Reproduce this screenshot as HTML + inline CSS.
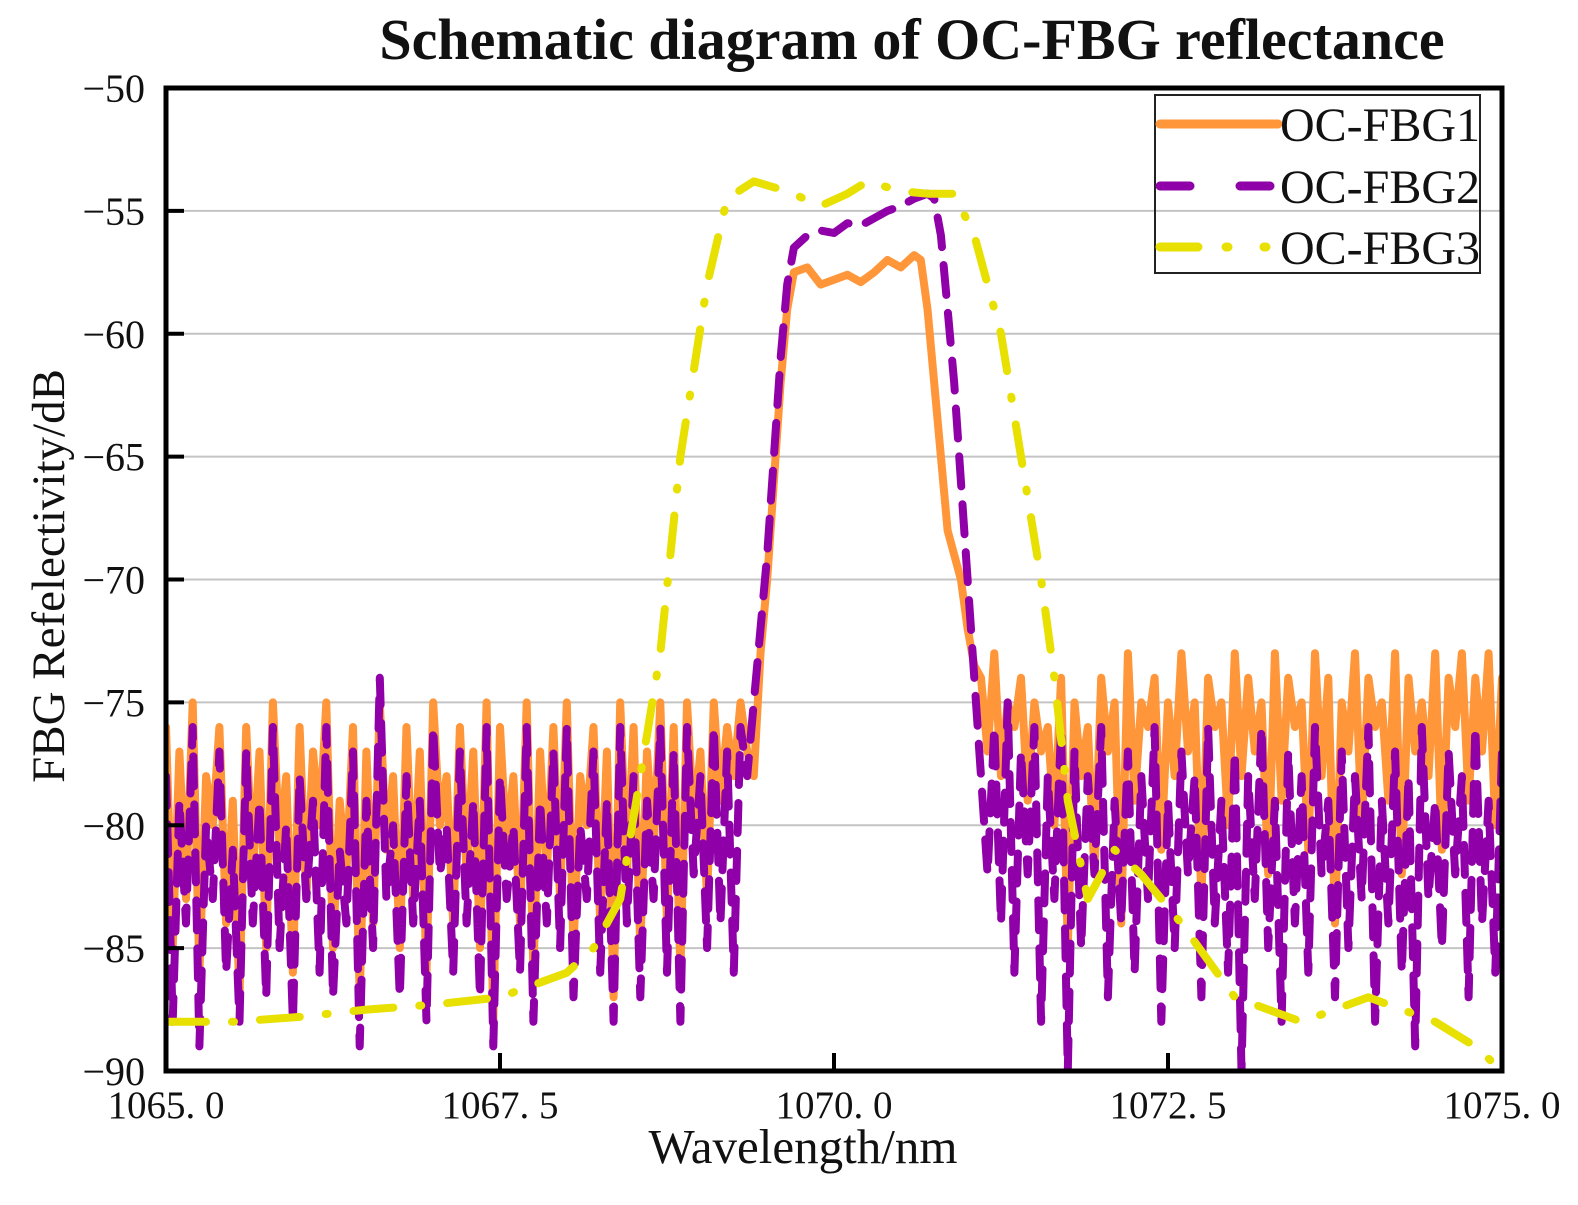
<!DOCTYPE html>
<html><head><meta charset="utf-8"><style>
html,body{margin:0;padding:0;background:#fff;}
svg{display:block;}
text{font-family:"Liberation Serif",serif;fill:#111;}
</style></head><body>
<svg id="chart" width="1578" height="1205" viewBox="0 0 1578 1205">
<text x="912" y="59" font-size="58" font-weight="bold" text-anchor="middle">Schematic diagram of OC-FBG reflectance</text>
<g id="grid"></g>
<g id="series"></g>
<rect x="166" y="88" width="1336" height="983" fill="none" stroke="#000" stroke-width="5"/>
<g id="ticks"></g>
<text x="803" y="1163" font-size="49" text-anchor="middle">Wavelength/nm</text>
<text transform="translate(64,576) rotate(-90)" font-size="47" text-anchor="middle">FBG Refelectivity/dB</text>
<g>
<rect x="1155" y="95" width="325" height="178" fill="none" stroke="#222" stroke-width="2"/>
<line x1="1160" y1="124" x2="1278" y2="124" stroke="#ff963a" stroke-width="9" stroke-linecap="round"/>
<line x1="1160" y1="186" x2="1278" y2="186" stroke="#9000a8" stroke-width="9" stroke-dasharray="30,50" stroke-linecap="round"/>
<line x1="1160" y1="247" x2="1278" y2="247" stroke="#e8e000" stroke-width="9" stroke-dasharray="38,28,2,36,2,30" stroke-linecap="round"/>
<text x="1280" y="141" font-size="48">OC-FBG1</text>
<text x="1280" y="203" font-size="48">OC-FBG2</text>
<text x="1280" y="264" font-size="48">OC-FBG3</text>
</g>
</svg>
<script>
const xTicks=[1065,1067.5,1070,1072.5,1075];
const xTickLabels=["1065. 0","1067. 5","1070. 0","1072. 5","1075. 0"];
const yTicks=[-50,-55,-60,-65,-70,-75,-80,-85,-90];
const yTickLabels=["\u221250","\u221255","\u221260","\u221265","\u221270","\u221275","\u221280","\u221285","\u221290"];
const noiseStep=0.05;
const fbg1LeftStart=1065;
const fbg1Left=[-76,-85,-77,-83,-75,-86,-78,-80,-76,-84,-79,-87,-76,-82,-77,-85,-75,-81,-78,-86,-76,-83,-77,-80,-75,-85,-79,-82,-76,-87,-77,-84,-75,-81,-78,-85,-76,-83,-77,-86,-75,-80,-78,-84,-76,-82,-77,-85,-75,-88,-76,-81,-78,-84,-75,-86,-77,-82,-76,-83,-75,-85,-78,-80,-76,-84,-77,-87,-75,-82,-76,-85,-77,-81,-75,-84,-76,-86,-75,-80,-77,-83,-75,-79,-76,-78,-75,-77];
const fbg1CenterX=[1069.4,1069.45,1069.5,1069.55,1069.6,1069.65,1069.7,1069.8,1069.9,1070.0,1070.1,1070.2,1070.3,1070.4,1070.5,1070.6,1070.65,1070.7,1070.75,1070.8,1070.85,1070.95,1071.0,1071.05];
const fbg1CenterY=[-78,-73,-70,-66,-62,-59,-57.5,-57.3,-58,-57.8,-57.6,-57.9,-57.5,-57.0,-57.3,-56.8,-57,-59,-62,-65,-68,-70,-72,-73.5];
const fbg1RightStart=1071.1;
const fbg1Right=[-74,-77,-73,-78,-75,-76,-74,-79,-75,-77,-76,-80,-74,-85,-75,-78,-76,-82,-74,-77,-75,-84,-73,-79,-75,-76,-74,-81,-75,-78,-73,-77,-75,-83,-74,-76,-75,-80,-73,-78,-74,-77,-75,-82,-73,-79,-74,-76,-75,-81,-73,-78,-74,-84,-75,-77,-73,-80,-74,-76,-75,-79,-73,-82,-74,-77,-75,-78,-73,-81,-74,-76,-73,-79,-74,-77,-73,-80,-74];
const fbg2LeftStart=1065;
const fbg2Left=[-78,-88,-79,-84,-76,-89,-80,-83,-77,-86,-81,-88,-77,-84,-79,-87,-76,-85,-80,-88,-78,-83,-79,-86,-76,-87,-81,-84,-77,-89,-79,-85,-74,-83,-80,-87,-78,-84,-79,-88,-76,-82,-80,-86,-77,-84,-79,-87,-76,-89,-78,-83,-80,-86,-76,-88,-79,-84,-77,-85,-76,-87,-80,-83,-77,-86,-79,-88,-76,-84,-78,-87,-79,-83,-76,-86,-77,-88,-76,-82,-78,-85,-76,-84,-77,-86,-76];
const fbg2CenterX=[1069.35,1069.4,1069.45,1069.5,1069.55,1069.6,1069.65,1069.7,1069.8,1069.9,1070.0,1070.1,1070.2,1070.3,1070.4,1070.5,1070.6,1070.7,1070.75,1070.8,1070.85,1070.9,1070.95,1071.0,1071.05,1071.1,1071.15];
const fbg2CenterY=[-78,-75,-72,-69,-65,-61,-58,-56.5,-56,-55.8,-55.9,-55.5,-55.6,-55.3,-55.0,-54.8,-54.5,-54.3,-54.5,-56,-59,-62,-66,-70,-74,-78,-82];
const fbg2RightStart=1071.2;
const fbg2Right=[-76,-84,-75,-86,-77,-82,-76,-88,-78,-83,-76,-90,-77,-85,-78,-82,-76,-87,-79,-84,-77,-86,-78,-83,-76,-88,-79,-85,-77,-82,-78,-87,-76,-84,-79,-86,-77,-90,-78,-83,-76,-85,-79,-88,-77,-84,-78,-86,-76,-82,-79,-87,-77,-85,-78,-83,-76,-88,-79,-84,-77,-86,-78,-89,-76,-83,-79,-85,-77,-82,-78,-87,-76,-84,-79,-86,-77];
const fbg3X=[1065,1065.5,1066,1066.5,1067,1067.5,1068,1068.2,1068.4,1068.55,1068.7,1068.85,1069.05,1069.2,1069.4,1069.65,1069.9,1070.1,1070.25,1070.5,1070.7,1070.9,1071.05,1071.25,1071.4,1071.55,1071.65,1071.75,1071.9,1072.1,1072.3,1072.6,1073,1073.5,1074,1074.5,1074.8,1075];
const fbg3Y=[-88,-88,-87.8,-87.5,-87.3,-87,-86,-85,-83,-78,-73,-65,-58,-54.5,-53.8,-54.2,-54.8,-54.3,-53.8,-54.2,-54.3,-54.3,-56,-60,-65,-70,-74,-79,-83,-81,-82,-84,-87,-88,-87,-88,-89,-90];

const X0=166,X1=1502,Y0=88,Y1=1071;
const sx=v=>X0+(v-1065)/10*(X1-X0);
const sy=v=>Y0+(-50-v)/40*(Y1-Y0);
const NS="http://www.w3.org/2000/svg";
const grid=document.getElementById('grid'),ticks=document.getElementById('ticks'),series=document.getElementById('series');
yTicks.forEach((t,i)=>{
  if(i>0&&i<yTicks.length-1){
    const g=document.createElementNS(NS,'line');
    
    
    g.setAttribute('x1',X0);g.setAttribute('x2',X1);g.setAttribute('y1',sy(t));g.setAttribute('y2',sy(t));
    g.setAttribute('stroke','#c4c4c4');g.setAttribute('stroke-width','2');grid.appendChild(g);
    const tk=document.createElementNS(NS,'line');
    
    
    tk.setAttribute('x1',X0);tk.setAttribute('x2',X0+18);tk.setAttribute('y1',sy(t));tk.setAttribute('y2',sy(t));
    tk.setAttribute('stroke','#000');tk.setAttribute('stroke-width','4');ticks.appendChild(tk);
  }
  const l=document.createElementNS(NS,'text');
  
  
  l.setAttribute('x',145);l.setAttribute('y',sy(t)+14);l.setAttribute('text-anchor','end');l.setAttribute('font-size','40');
  l.textContent=yTickLabels[i];ticks.appendChild(l);
});
xTicks.forEach((t,i)=>{
  if(i>0&&i<xTicks.length-1){
    const tk=document.createElementNS(NS,'line');
    
    
    tk.setAttribute('x1',sx(t));tk.setAttribute('x2',sx(t));tk.setAttribute('y1',Y1);tk.setAttribute('y2',Y1-18);
    tk.setAttribute('stroke','#000');tk.setAttribute('stroke-width','4');ticks.appendChild(tk);
  }
  const l=document.createElementNS(NS,'text');
  
  
  l.setAttribute('x',sx(t));l.setAttribute('y',1118);l.setAttribute('text-anchor','middle');l.setAttribute('font-size','39');
  l.textContent=xTickLabels[i];ticks.appendChild(l);
});
function build(ls,l,cx,cy,rs,r){
  const pts=[];
  l.forEach((v,i)=>pts.push([ls+i*noiseStep,v]));
  cx.forEach((x,i)=>pts.push([x,cy[i]]));
  r.forEach((v,i)=>pts.push([rs+i*noiseStep,v]));
  return pts;
}
function draw(pts,color,dash,w,name){
  const p=document.createElementNS(NS,'path');
  
  
  p.setAttribute('d',pts.map((q,i)=>(i?'L':'M')+sx(q[0]).toFixed(1)+','+sy(q[1]).toFixed(1)).join(''));
  p.setAttribute('fill','none');p.setAttribute('stroke',color);p.setAttribute('stroke-width',w);
  p.setAttribute('stroke-linejoin','round');p.setAttribute('stroke-linecap','round');
  if(dash)p.setAttribute('stroke-dasharray',dash);
  series.appendChild(p);
}
const clip=document.createElementNS(NS,'clipPath');clip.setAttribute('id','pc');
const cr=document.createElementNS(NS,'rect');cr.setAttribute('x',X0);cr.setAttribute('y',Y0);cr.setAttribute('width',X1-X0);cr.setAttribute('height',Y1-Y0);
clip.appendChild(cr);document.getElementById('chart').appendChild(clip);series.setAttribute('clip-path','url(#pc)');
draw(build(fbg1LeftStart,fbg1Left,fbg1CenterX,fbg1CenterY,fbg1RightStart,fbg1Right),'#ff963a',null,8,'series-oc-fbg1');
draw(build(fbg2LeftStart,fbg2Left,fbg2CenterX,fbg2CenterY,fbg2RightStart,fbg2Right),'#9000a8','30,18',8,'series-oc-fbg2');
draw(fbg3X.map((x,i)=>[x,fbg3Y[i]]),'#e8e000','40,26,2,26',8,'series-oc-fbg3');
</script>
</body></html>
